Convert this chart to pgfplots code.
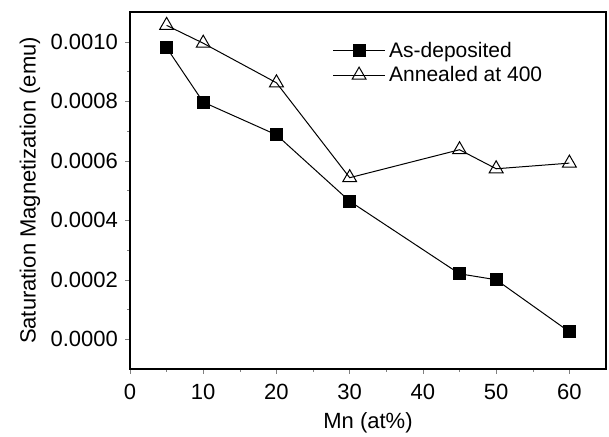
\documentclass[border=0pt]{standalone}
\usepackage{fontspec}
\setmainfont{Liberation Sans}
\usepackage{pgfplots}
\pgfplotsset{compat=1.18}
\begin{document}
\begin{tikzpicture}
\useasboundingbox (-65pt,-34pt) rectangle (239.5pt,184.5pt);
\begin{axis}[
  scale only axis,
  width=238pt, height=178.5pt,
  xmin=0, xmax=65, ymin=-0.0001, ymax=0.0011,
  xtick={0,10,20,30,40,50,60},
  ytick={0,0.0002,0.0004,0.0006,0.0008,0.0010},
  minor x tick num=1, minor y tick num=1,
  tick pos=left, tick align=outside,
  major tick length=2.5pt, minor tick length=1.5pt,
  scaled y ticks=false,
  /pgf/number format/assume math mode=true,
  yticklabel style={/pgf/number format/fixed, /pgf/number format/fixed zerofill, /pgf/number format/precision=4},
  xticklabel style={yshift=-1.5pt},
  tick label style={font=\fontsize{11}{13}\selectfont},
  label style={font=\fontsize{11}{13}\selectfont},
  xlabel={Mn (at\%)},
  ylabel={Saturation Magnetization (emu)},
  x label style={at={(axis description cs:0.5,-0.151)},anchor=center},
  y label style={at={(axis description cs:-0.21,0.5)},anchor=center},
  axis line style={line width=0.6pt},
  legend style={draw=none, fill=none, at={(axis description cs:0.413,0.94)}, anchor=north west,
    font=\fontsize{10.5}{12}\selectfont, row sep=-1pt},
  legend cell align=left,
  legend image code/.code={\draw[mark repeat=2,mark phase=2] plot coordinates {(0cm,0cm)(0.45cm,0cm)(0.9cm,0cm)};},
]
\addplot[black, line width=0.5pt, mark=square*, mark size=3pt, mark options={solid,fill=black}]
  coordinates {(5,0.000980) (10,0.000797) (20,0.000687) (30,0.000464) (45,0.000220) (50,0.000200) (60,0.000025)};
\addlegendentry{As-deposited}
\addplot[black, line width=0.5pt, mark=triangle, mark size=4pt, mark options={solid,fill=white}]
  coordinates {(5,0.001055) (10,0.000995) (20,0.000862) (30,0.000543) (45,0.000637) (50,0.000573) (60,0.000592)};
\addlegendentry{Annealed at 400}
\end{axis}
\end{tikzpicture}
\end{document}
